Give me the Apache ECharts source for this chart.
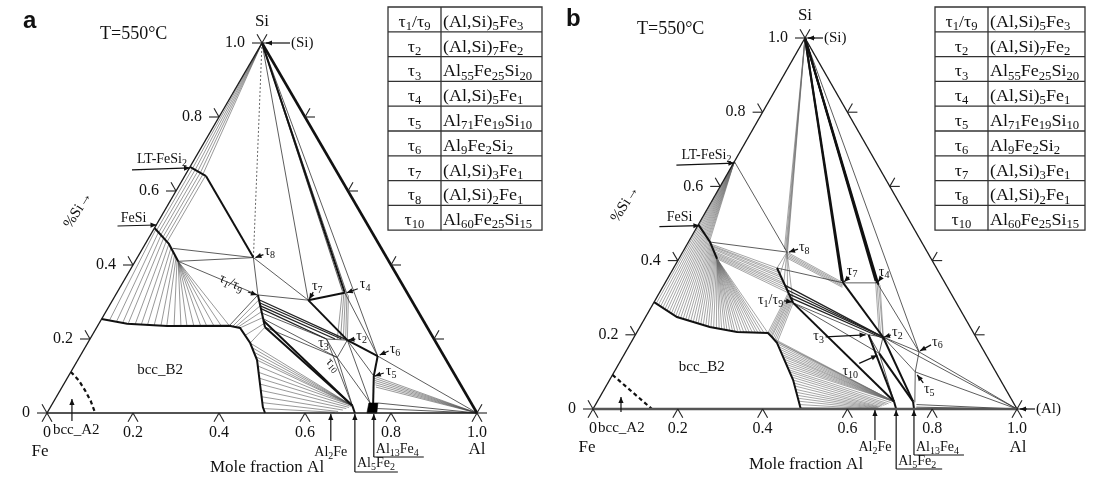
<!DOCTYPE html>
<html>
<head>
<meta charset="utf-8">
<script src="https://cdn.jsdelivr.net/npm/echarts@6/dist/echarts.min.js"></script>
<style>
  html, body { margin: 0; padding: 0; background: #fff; }
  #chart { width: 1093px; height: 484px; }
</style>
</head>
<body>
<div id="chart"></div>
<script>
// Al–Fe–Si isothermal sections at 550 °C. Every composition is [x_Al, x_Si].
const SERIF = '"Liberation Serif", "DejaVu Serif", serif';

// ---- axis ticks ----
const tickValues = [0, 0.2, 0.4, 0.6, 0.8, 1.0];
const tickLabels = ['0', '0.2', '0.4', '0.6', '0.8', '1.0'];

// ---- table of ternary phases ----
const tableSymbols = ['τ_1/τ_9', 'τ_2', 'τ_3', 'τ_4', 'τ_5', 'τ_6', 'τ_7', 'τ_8', 'τ_10'];
const tableFormulas = ['(Al,Si)_5Fe_3', '(Al,Si)_7Fe_2', 'Al_55Fe_25Si_20', '(Al,Si)_5Fe_1',
  'Al_71Fe_19Si_10', 'Al_9Fe_2Si_2', '(Al,Si)_3Fe_1', '(Al,Si)_2Fe_1', 'Al_60Fe_25Si_15'];

// ---- pure elements ----
const SI = [0, 1];
const AL = [1, 0];
const FE = [0, 0];

// ================= panel a =================
const aLTFeSi2 = [[0, 0.665], [0.05, 0.64]];
const aFeSi = [[0, 0.5], [0.055, 0.457], [0.10, 0.41]];
const aB2Boundary = [[0, 0.254], [0.066, 0.241], [0.162, 0.235], [0.306, 0.236], [0.334, 0.23],
  [0.378, 0.189], [0.417, 0.143], [0.494, 0.016], [0.507, 0]];
const aA2Boundary = [[0, 0.111], [0.03, 0.088], [0.057, 0.062], [0.085, 0.033], [0.112, 0]];
const aTau8 = [0.27, 0.42];
const aTau19 = [[0.331, 0.319], [0.391, 0.232]];
const aTau7 = [0.455, 0.305];
const aTau4 = [0.53, 0.325];
const aTau2 = [0.60, 0.197];
const aTau3 = [0.55, 0.20];
const aTau10 = [0.60, 0.15];
const aTau6 = [0.692, 0.154];
const aTau5 = [0.71, 0.10];
const aAl2Fe = [0.66, 0];
const aAl5Fe2 = [[0.70, 0.02], [0.716, 0]];
const aAl13Fe4 = [[0.735, 0.027], [0.756, 0.027], [0.767, 0], [0.744, 0]];
const aAl13Fe4Label = [0.76, 0];
const aA2Label = [0.058, 0];
const aB2Label = [0.205, 0.116];

const aTieSiLT = [[0.008, 0.661], [0.016, 0.657], [0.024, 0.653], [0.032, 0.649], [0.04, 0.645]];
const aTieLTFeSi = [
  [[0.008, 0.661], [0.008, 0.494]], [[0.016, 0.657], [0.016, 0.487]], [[0.024, 0.653], [0.024, 0.481]],
  [[0.032, 0.649], [0.032, 0.475]], [[0.040, 0.645], [0.040, 0.469]], [[0.048, 0.641], [0.048, 0.463]]];
const aTieFeSiB2 = [
  [[0.005, 0.496], [0.02, 0.252]], [[0.015, 0.488], [0.038, 0.248]], [[0.025, 0.48], [0.054, 0.245]],
  [[0.035, 0.472], [0.068, 0.242]], [[0.045, 0.465], [0.085, 0.24]], [[0.055, 0.457], [0.10, 0.238]],
  [[0.065, 0.447], [0.115, 0.237]], [[0.075, 0.436], [0.131, 0.236]], [[0.083, 0.428], [0.147, 0.236]],
  [[0.09, 0.42], [0.161, 0.235]], [[0.095, 0.415], [0.178, 0.235]], [[0.10, 0.41], [0.194, 0.235]],
  [[0.10, 0.41], [0.208, 0.235]], [[0.10, 0.41], [0.224, 0.235]], [[0.10, 0.41], [0.24, 0.235]],
  [[0.10, 0.41], [0.254, 0.235]], [[0.10, 0.41], [0.271, 0.235]], [[0.10, 0.41], [0.287, 0.236]],
  [[0.10, 0.41], [0.306, 0.236]]];
const aTieB2Tau19 = [
  [[0.315, 0.235], [0.34, 0.306]], [[0.322, 0.233], [0.351, 0.29]], [[0.328, 0.232], [0.362, 0.274]],
  [[0.334, 0.23], [0.373, 0.258]], [[0.356, 0.21], [0.384, 0.242]], [[0.378, 0.189], [0.391, 0.232]]];
const aTieB2AlFe = [
  [[0.378, 0.189], [0.70, 0.02]], [[0.39, 0.176], [0.70, 0.02]], [[0.40, 0.164], [0.70, 0.02]],
  [[0.41, 0.152], [0.70, 0.02]], [[0.417, 0.143], [0.70, 0.02]], [[0.427, 0.127], [0.70, 0.02]],
  [[0.437, 0.11], [0.70, 0.02]], [[0.447, 0.094], [0.698, 0.018]], [[0.457, 0.078], [0.695, 0.015]],
  [[0.467, 0.061], [0.69, 0.012]], [[0.477, 0.044], [0.684, 0.008]], [[0.487, 0.028], [0.675, 0.004]],
  [[0.497, 0.012], [0.668, 0.002]]];
const aTieTau4Tau2 = [
  [[0.522, 0.33], [0.575, 0.2]], [[0.527, 0.327], [0.583, 0.199]], [[0.532, 0.324], [0.59, 0.198]],
  [[0.537, 0.321], [0.596, 0.197]], [[0.542, 0.318], [0.60, 0.197]]];
const aTieTau19Tau2 = [
  [[0.34, 0.306], [0.60, 0.197]], [[0.345, 0.298], [0.585, 0.20]],
  [[0.35, 0.29], [0.57, 0.20]], [[0.355, 0.283], [0.55, 0.20]]];
const aTieTau5Al = [[0.71, 0.10], [0.714, 0.094], [0.718, 0.088], [0.722, 0.082], [0.726, 0.076], [0.73, 0.07]];

const aThinLinks = [
  [SI, aTau7], [SI, aTau6], [SI, [0.522, 0.33]], [SI, [0.538, 0.32]],
  [aTau4, aTau6], [aTau6, AL],
  [aFeSi[2], aTau8], [[0.07, 0.445], aTau8], [aFeSi[2], aTau19[0]], [aB2Boundary[3], aTau19[0]],
  [aTau8, aTau19[0]], [aTau8, aTau7], [aTau19[0], aTau7],
  [aTau3, aTau2], [aTau3, aTau10], [aTau10, aTau2],
  [aTau10, aAl5Fe2[0]], [aTau10, [0.738, 0.027]], [aTau2, [0.738, 0.027]], [aTau2, aTau5], [aTau3, aAl5Fe2[0]],
  [aTau19[1], aTau10], [[0.365, 0.27], aTau3], [[0.375, 0.255], aTau10],
  [[0.756, 0.027], AL], [[0.762, 0.012], AL]];
const aThickLinks = [
  [aLTFeSi2[1], aTau8], [aTau7, aTau4], [aTau7, aTau2], [aTau2, aTau6], [aTau6, aTau5], [aTau5, [0.745, 0.027]],
  [aTau19[1], aAl5Fe2[0]], [[0.378, 0.25], aAl5Fe2[0]], [SI, aTau4], [aAl5Fe2[0], aAl5Fe2[1]],
  aTau19, aLTFeSi2, aFeSi, aB2Boundary];

// ================= panel b =================
const bLTFeSi2 = [0, 0.667];
const bFeSi = [[0, 0.497], [0.051, 0.45], [0.09, 0.405]];
const bB2Boundary = [[0, 0.288], [0.074, 0.248], [0.165, 0.221], [0.236, 0.2075], [0.31, 0.205],
  [0.325, 0.194], [0.345, 0.178], [0.433, 0.078], [0.49, 0]];
const bA2Boundary = [[0, 0.092], [0.139, 0]];
const bTau8 = [0.246, 0.423];
const bTau19 = [[0.244, 0.38], [0.329, 0.286]];
const bTau7 = [0.42, 0.34];
const bTau4 = [0.50, 0.34];
const bTau2 = [0.587, 0.194];
const bTau3 = [0.55, 0.20];
const bTau10 = [0.60, 0.15];
const bTau6 = [0.692, 0.154];
const bTau5 = [0.71, 0.10];
const bAl2Fe = [0.665, 0];
const bAl5Fe2 = [[0.70, 0.02], [0.715, 0]];
const bAl13Fe4 = [[0.745, 0.02], [0.757, 0]];
const bA2Label = [0.066, 0];
const bB2Label = [0.2, 0.113];

const bTieSiTau8 = [[0.236, 0.431], [0.24, 0.428], [0.243, 0.426], [0.246, 0.423], [0.249, 0.419]];
const bTieLTFeSi = [[0.0035, 0.494], [0.007, 0.491], [0.0105, 0.487], [0.014, 0.484], [0.0175, 0.481],
  [0.021, 0.478], [0.0245, 0.474], [0.028, 0.471], [0.0315, 0.468], [0.035, 0.465], [0.0385, 0.462],
  [0.042, 0.458], [0.0455, 0.455], [0.049, 0.452]];
const bTieFeSiB2 = [
  [[0.0035, 0.494], [0.007, 0.284]], [[0.007, 0.491], [0.014, 0.28]], [[0.0105, 0.487], [0.021, 0.277]],
  [[0.014, 0.484], [0.028, 0.273]], [[0.0175, 0.481], [0.035, 0.269]], [[0.021, 0.478], [0.042, 0.265]],
  [[0.0245, 0.474], [0.049, 0.262]], [[0.028, 0.471], [0.056, 0.258]], [[0.0315, 0.468], [0.063, 0.254]],
  [[0.035, 0.465], [0.07, 0.25]], [[0.0385, 0.462], [0.077, 0.247]], [[0.042, 0.458], [0.084, 0.245]],
  [[0.0455, 0.455], [0.091, 0.243]], [[0.049, 0.452], [0.098, 0.241]], [[0.0525, 0.448], [0.105, 0.239]],
  [[0.056, 0.444], [0.112, 0.237]], [[0.0595, 0.44], [0.119, 0.235]], [[0.063, 0.436], [0.126, 0.233]],
  [[0.0665, 0.432], [0.133, 0.23]], [[0.07, 0.428], [0.14, 0.228]], [[0.0735, 0.424], [0.147, 0.226]],
  [[0.077, 0.42], [0.154, 0.224]], [[0.0805, 0.416], [0.161, 0.222]], [[0.084, 0.412], [0.168, 0.22]],
  [[0.0875, 0.408], [0.175, 0.219]],
  [[0.09, 0.405], [0.182, 0.218]], [[0.09, 0.405], [0.189, 0.217]], [[0.09, 0.405], [0.196, 0.215]],
  [[0.09, 0.405], [0.203, 0.214]], [[0.09, 0.405], [0.21, 0.212]], [[0.09, 0.405], [0.217, 0.211]],
  [[0.09, 0.405], [0.224, 0.21]], [[0.09, 0.405], [0.231, 0.208]], [[0.09, 0.405], [0.238, 0.208]],
  [[0.09, 0.405], [0.245, 0.207]], [[0.09, 0.405], [0.252, 0.207]], [[0.09, 0.405], [0.259, 0.207]],
  [[0.09, 0.405], [0.266, 0.206]], [[0.09, 0.405], [0.273, 0.206]], [[0.09, 0.405], [0.28, 0.206]],
  [[0.09, 0.405], [0.287, 0.205]], [[0.09, 0.405], [0.294, 0.205]], [[0.09, 0.405], [0.301, 0.205]],
  [[0.09, 0.405], [0.31, 0.205]]];
const bTieFeSiTau19 = [
  [[0.055, 0.445], [0.244, 0.38]], [[0.0585, 0.441], [0.25, 0.373]], [[0.062, 0.438], [0.256, 0.367]],
  [[0.0655, 0.434], [0.262, 0.36]], [[0.069, 0.43], [0.268, 0.354]], [[0.0725, 0.425], [0.274, 0.347]],
  [[0.076, 0.421], [0.28, 0.34]], [[0.0795, 0.417], [0.286, 0.334]], [[0.083, 0.413], [0.292, 0.327]],
  [[0.0865, 0.409], [0.298, 0.32]], [[0.09, 0.405], [0.304, 0.313]]];
const bTieTau8Tau19 = [[0.244, 0.38], [0.26, 0.362], [0.28, 0.34], [0.30, 0.318], [0.329, 0.286]];
const bTieTau8Tau7 = [
  [[0.246, 0.423], [0.42, 0.34]], [[0.248, 0.419], [0.421, 0.337]], [[0.25, 0.415], [0.422, 0.334]],
  [[0.252, 0.411], [0.423, 0.331]], [[0.254, 0.407], [0.424, 0.328]]];
const bTieB2Tau19 = [
  [[0.31, 0.205], [0.304, 0.313]], [[0.314, 0.202], [0.307, 0.31]], [[0.318, 0.2], [0.31, 0.306]],
  [[0.322, 0.197], [0.313, 0.303]], [[0.325, 0.194], [0.316, 0.3]], [[0.33, 0.19], [0.319, 0.297]],
  [[0.335, 0.186], [0.322, 0.293]], [[0.34, 0.182], [0.325, 0.29]], [[0.345, 0.178], [0.329, 0.286]]];
const bTieB2Al5Fe2 = [[0.33, 0.19], [0.336, 0.185], [0.342, 0.181], [0.348, 0.175], [0.354, 0.168],
  [0.36, 0.161], [0.366, 0.154], [0.372, 0.147], [0.378, 0.141], [0.384, 0.134], [0.39, 0.127]];
const bTieB2AlFe = [
  [[0.396, 0.12], [0.70, 0.02]], [[0.402, 0.113], [0.70, 0.02]], [[0.408, 0.106], [0.695, 0.017]],
  [[0.414, 0.10], [0.69, 0.014]], [[0.42, 0.093], [0.686, 0.012]], [[0.426, 0.086], [0.682, 0.01]],
  [[0.433, 0.078], [0.678, 0.008]], [[0.439, 0.07], [0.675, 0.006]], [[0.445, 0.062], [0.672, 0.005]],
  [[0.451, 0.053], [0.67, 0.004]], [[0.457, 0.045], [0.668, 0.003]], [[0.463, 0.037], [0.667, 0.002]],
  [[0.469, 0.029], [0.666, 0.001]], [[0.475, 0.021], [0.665, 0]], [[0.481, 0.012], [0.665, 0]],
  [[0.487, 0.004], [0.665, 0]]];
const bTieTau4Tau2 = [
  [[0.495, 0.343], [0.575, 0.2]], [[0.50, 0.34], [0.58, 0.197]],
  [[0.505, 0.337], [0.587, 0.194]], [[0.51, 0.334], [0.59, 0.19]]];
const bTieTau19Tau2 = [
  [[0.285, 0.334], [0.58, 0.197]], [[0.295, 0.322], [0.587, 0.194]],
  [[0.305, 0.311], [0.587, 0.194]], [[0.315, 0.3], [0.59, 0.19]]];

const bThinLinks = [
  [bLTFeSi2, bTau8], [bFeSi[1], bTau8], [bTau19[0], bTau7], [bTau7, bTau4], [bTau4, bTau6], [SI, bTau6],
  [bTau2, bTau6], [bTau6, AL], [bTau5, AL], [bTau2, AL], [bTau5, [0.75, 0.018]],
  [bTau3, bTau2], [bTau19[1], bTau3], [bTau19[1], bTau10], [bTau3, bTau10], [bTau10, bTau2],
  [bTau10, bAl5Fe2[0]], [bTau2, bTau5], [bTau6, bTau5], [[0.757, 0.012], AL], [[0.76, 0.005], AL]];
const bThickLinks = [
  [SI, bTau7], [SI, [0.414, 0.345]], [SI, bTau4], [SI, [0.494, 0.345]], [SI, [0.506, 0.335]],
  [bTau7, bTau2], [bTau19[1], bAl5Fe2[0]], [bTau2, bAl13Fe4[0]], [bTau3, bAl5Fe2[0]], [bTau10, bAl13Fe4[0]],
  bAl5Fe2, bAl13Fe4, bTau19, bFeSi, bB2Boundary];

// ---------------------------------------------------------------
const toXY = p => [p[0] + p[1] / 2, p[1]];   // ternary -> cartesian (equilateral)
const fanFrom = (origin, ends) => ends.map(e => [origin, e]);

const STYLE = {
  frame: { stroke: '#1a1a1a', lineWidth: 1.4 },
  heavy: { stroke: '#111', lineWidth: 2.6 },
  heavyGray: { stroke: '#555', lineWidth: 2.6 },
  thick: { stroke: '#111', lineWidth: 2.0 },
  med: { stroke: '#222', lineWidth: 1.3 },
  thin: { stroke: '#333', lineWidth: 0.8 },
  tie: { stroke: '#444', lineWidth: 0.55 },
  gray: { stroke: '#6a6a6a', lineWidth: 0.6 },
  dotted: { stroke: '#555', lineWidth: 0.9, lineDash: [2, 2] },
  dashed: { stroke: '#111', lineWidth: 2.2, lineDash: [4, 3] },
  solid: { fill: '#000' }
};

const aLayers = [
  ['tie', fanFrom(SI, aTieSiLT)], ['tie', aTieLTFeSi], ['tie', aTieFeSiB2], ['tie', aTieB2Tau19],
  ['tie', aTieB2AlFe], ['tie', aTieTau4Tau2], ['tie', fanFrom(AL, aTieTau5Al)],
  ['med', aTieTau19Tau2], ['thin', aThinLinks], ['dotted', [[SI, aTau8]]], ['thick', aThickLinks],
  ['dashed', [aA2Boundary]], ['solid', [aAl13Fe4]],
  ['frame', [[FE, AL], [FE, SI]]], ['heavy', [[SI, AL]]]
];
const bLayers = [
  ['gray', fanFrom(SI, bTieSiTau8)], ['gray', fanFrom(bLTFeSi2, bTieLTFeSi)], ['gray', bTieFeSiB2],
  ['gray', bTieFeSiTau19], ['gray', fanFrom(bTau8, bTieTau8Tau19)], ['gray', bTieTau8Tau7],
  ['gray', bTieB2Tau19], ['gray', fanFrom(bAl5Fe2[0], bTieB2Al5Fe2)], ['gray', bTieB2AlFe],
  ['gray', bTieTau4Tau2], ['med', bTieTau19Tau2], ['thin', bThinLinks], ['thick', bThickLinks],
  ['dashed', [bA2Boundary]],
  ['frame', [[FE, SI], [SI, AL]]], ['heavyGray', [[FE, AL]]]
];

function flatten(layers) {
  const out = [];
  layers.forEach(([st, lines]) => lines.forEach(pts => out.push({ st, pts })));
  return out;
}

function shapeSeries(layers, gi) {
  const shapes = flatten(layers);
  return {
    type: 'custom', coordinateSystem: 'cartesian2d', xAxisIndex: gi, yAxisIndex: gi,
    clip: false, silent: true, animation: false,
    data: shapes.map(s => toXY(s.pts[0])),
    renderItem: (params, api) => {
      const s = shapes[params.dataIndex];
      const st = STYLE[s.st];
      const pts = s.pts.map(p => api.coord(toXY(p)));
      if (st.fill) {
        return { type: 'polygon', shape: { points: pts }, style: { fill: st.fill, stroke: st.fill, lineWidth: 0.6 } };
      }
      return {
        type: 'polyline', shape: { points: pts },
        style: { stroke: st.stroke, lineWidth: st.lineWidth, lineDash: st.lineDash || null, fill: null }
      };
    }
  };
}

// ---- rich text with subscripts: "Al_13Fe_4" ----
function rt(str) {
  return str.split(/(_\d+)/).filter(Boolean)
    .map(seg => seg[0] === '_' ? '{s|' + seg.slice(1) + '}' : '{n|' + seg + '}').join('');
}
function richStyles(fs) {
  return {
    n: { fontSize: fs, fontFamily: SERIF, verticalAlign: 'top', fill: '#111' },
    s: { fontSize: Math.round(fs * 0.68), fontFamily: SERIF, verticalAlign: 'top',
         padding: [Math.round(fs * 0.42), 0, 0, 0], fill: '#111' }
  };
}
function textEl(str, x, y, align, fs, rot, vAlign, sx) {
  return {
    type: 'text', x, y, rotation: (rot || 0) * Math.PI / 180, scaleX: sx || 1,
    style: { text: rt(str), rich: richStyles(fs || 15), align: align || 'center',
             verticalAlign: vAlign || 'middle', fill: '#111' }
  };
}
function arrowHead(x1, y1, x2, y2) {
  const a = Math.atan2(y2 - y1, x2 - x1), L = 6, w = 2.6;
  const bx = x2 - L * Math.cos(a), by = y2 - L * Math.sin(a);
  return {
    type: 'polygon',
    shape: { points: [[x2, y2], [bx + w * Math.sin(a), by - w * Math.cos(a)], [bx - w * Math.sin(a), by + w * Math.cos(a)]] },
    style: { fill: '#111' }
  };
}

// ---- ternary ticks ----
const TICK_LEN = 10;
const TICK_DIRS = {
  bottom: [[-0.5, 0.866], [0.5, 0.866]],
  left: [[-1, 0], [-0.5, -0.866]],
  right: [[1, 0], [0.5, -0.866]]
};
const edgePoint = (edge, t) => edge === 'bottom' ? [t, 0] : edge === 'left' ? [0, t] : [1 - t, t];

function tickSeries(gi) {
  const items = [];
  tickValues.forEach((t, i) => { items.push(['bottom', t, i], ['left', t, i], ['right', t, i]); });
  return {
    type: 'custom', coordinateSystem: 'cartesian2d', xAxisIndex: gi, yAxisIndex: gi,
    clip: false, silent: true, animation: false,
    data: items.map(it => toXY(edgePoint(it[0], it[1]))),
    renderItem: (params, api) => {
      const [edge, t, i] = items[params.dataIndex];
      const c = api.coord(toXY(edgePoint(edge, t)));
      const children = TICK_DIRS[edge].map(d => ({
        type: 'line',
        shape: { x1: c[0], y1: c[1], x2: c[0] + d[0] * TICK_LEN, y2: c[1] + d[1] * TICK_LEN },
        style: { stroke: '#222', lineWidth: 1.1 }
      }));
      if (edge === 'bottom') children.push(textEl(tickLabels[i], c[0], c[1] + 20, 'center', 16));
      if (edge === 'left') children.push(textEl(tickLabels[i], c[0] - 17, c[1], 'right', 16));
      return { type: 'group', children };
    }
  };
}

// ---- labels anchored at compositions; offsets in pixels ----
function noteSeries(notes, gi) {
  return {
    type: 'custom', coordinateSystem: 'cartesian2d', xAxisIndex: gi, yAxisIndex: gi,
    clip: false, silent: true, animation: false,
    data: notes.map(n => toXY(n.p)),
    renderItem: (params, api) => {
      const n = notes[params.dataIndex];
      const c = api.coord(toXY(n.p));
      const children = [];
      (n.lines || []).forEach(l => {
        const x1 = c[0] + l[0], y1 = c[1] + l[1], x2 = c[0] + l[2], y2 = c[1] + l[3];
        children.push({ type: 'line', shape: { x1, y1, x2, y2 }, style: { stroke: '#111', lineWidth: 1.2 } });
        if (l[4]) children.push(arrowHead(x1, y1, x2, y2));
      });
      if (n.text) children.push(textEl(n.text, c[0] + n.tx, c[1] + n.ty, n.align, n.fs || 14, n.rot));
      return { type: 'group', children };
    }
  };
}

const aNotes = [
  { p: SI, text: 'Si', tx: 0, ty: -21, fs: 17 },
  { p: FE, text: 'Fe', tx: -7, ty: 39, fs: 17 },
  { p: AL, text: 'Al', tx: 0, ty: 37, fs: 17 },
  { p: SI, text: '(Si)', tx: 29, ty: 0, align: 'left', fs: 15, lines: [[28, 0, 4, 0, 1]] },
  { p: [0.5, 0], text: 'Mole fraction Al', tx: 5, ty: 55, fs: 17 },
  { p: aLTFeSi2[0], text: 'LT-FeSi_2', tx: -3, ty: -7, align: 'right', fs: 14, lines: [[-58, 3, 0, 1, 1]] },
  { p: aFeSi[0], text: 'FeSi', tx: -8, ty: -10, align: 'right', fs: 14, lines: [[-37, -2, 2, -3, 1]] },
  { p: aA2Label, text: 'bcc_A2', tx: -19, ty: 17, align: 'left', fs: 15, lines: [[0, 8, 0, -14, 1]] },
  { p: aB2Label, text: 'bcc_B2', tx: 0, ty: 0, fs: 15 },
  { p: aTau8, text: 'τ_8', tx: 11, ty: -5, align: 'left', lines: [[10, -3, 2, 0, 1]] },
  { p: aTau19[0], text: 'τ_1/τ_9', tx: -27, ty: -11, rot: -25, lines: [[-10, -3, -1, 0, 1]] },
  { p: aTau7, text: 'τ_7', tx: 9, ty: -13, lines: [[5, -8, 1, -1, 1]] },
  { p: aTau4, text: 'τ_4', tx: 15, ty: -7, align: 'left', lines: [[13, -4, 2, 0, 1]] },
  { p: aTau2, text: 'τ_2', tx: 9, ty: -3, align: 'left', lines: [[8, -1, 1, 0, 1]] },
  { p: aTau3, text: 'τ_3', tx: -3, ty: 5 },
  { p: aTau10, text: 'τ_10', tx: -5, ty: 8, rot: -50, fs: 13 },
  { p: aTau6, text: 'τ_6', tx: 12, ty: -6, align: 'left', lines: [[11, -5, 2, -1, 1]] },
  { p: aTau5, text: 'τ_5', tx: 12, ty: -4, align: 'left', lines: [[10, -3, 1, 0, 1]] },
  { p: aAl2Fe, text: 'Al_2Fe', tx: 0, ty: 40, fs: 14, lines: [[0, 28, 0, 1, 1]] },
  { p: aAl5Fe2[1], text: 'Al_5Fe_2', tx: 2, ty: 51, align: 'left', fs: 14, lines: [[0, 59, 0, 1, 1], [0, 59, 43, 59, 0]] },
  { p: aAl13Fe4Label, text: 'Al_13Fe_4', tx: 2, ty: 37, align: 'left', fs: 14, lines: [[0, 44, 0, 1, 1], [0, 44, 50, 44, 0]] }
];
const bNotes = [
  { p: SI, text: 'Si', tx: 0, ty: -22, fs: 17 },
  { p: FE, text: 'Fe', tx: -6, ty: 39, fs: 17 },
  { p: AL, text: 'Al', tx: 1, ty: 39, fs: 17 },
  { p: SI, text: '(Si)', tx: 19, ty: 0, align: 'left', fs: 15, lines: [[18, 0, 3, 0, 1]] },
  { p: AL, text: '(Al)', tx: 19, ty: 0, align: 'left', fs: 15, lines: [[18, 0, 3, 0, 1]] },
  { p: [0.5, 0], text: 'Mole fraction Al', tx: 1, ty: 56, fs: 17 },
  { p: bLTFeSi2, text: 'LT-FeSi_2', tx: -3, ty: -5, align: 'right', fs: 14, lines: [[-58, 3.5, 0, 1.5, 1]] },
  { p: bFeSi[0], text: 'FeSi', tx: -6, ty: -7, align: 'right', fs: 14, lines: [[-39, 2, 1, 1, 1]] },
  { p: bA2Label, text: 'bcc_A2', tx: -23, ty: 19, align: 'left', fs: 15, lines: [[0, 3, 0, -12, 1]] },
  { p: bB2Label, text: 'bcc_B2', tx: 0, ty: 0, fs: 15 },
  { p: bTau8, text: 'τ_8', tx: 12, ty: -4, align: 'left', lines: [[11, -3, 2, 0, 1]] },
  { p: bTau19[1], text: 'τ_1/τ_9', tx: -10, ty: -2, align: 'right', lines: [[-9, -2, -1, -1, 1]] },
  { p: bTau7, text: 'τ_7', tx: 9, ty: -11, lines: [[6, -6, 1, -1, 1]] },
  { p: bTau4, text: 'τ_4', tx: 7, ty: -10, lines: [[4, -5, 1, -1, 1]] },
  { p: bTau3, text: 'τ_3', tx: -50, ty: 3, lines: [[-43, 2, -3, 0, 1]] },
  { p: bTau2, text: 'τ_2', tx: 9, ty: -4, align: 'left', lines: [[8, -2, 1, 0, 1]] },
  { p: bTau10, text: 'τ_10', tx: -29, ty: 19, lines: [[-20, 10, -2, 2, 1]] },
  { p: bTau6, text: 'τ_6', tx: 13, ty: -9, align: 'left', lines: [[12, -7, 1, -1, 1]] },
  { p: bTau5, text: 'τ_5', tx: 14, ty: 18, lines: [[8, 11, 2, 3, 1]] },
  { p: bAl2Fe, text: 'Al_2Fe', tx: 0, ty: 39, fs: 14, lines: [[0, 31, 0, 1, 1]] },
  { p: bAl5Fe2[1], text: 'Al_5Fe_2', tx: 2, ty: 53, align: 'left', fs: 14, lines: [[0, 60, 0, 1, 1], [0, 60, 46, 60, 0]] },
  { p: bAl13Fe4[1], text: 'Al_13Fe_4', tx: 2, ty: 39, align: 'left', fs: 14, lines: [[0, 46, 0, 1, 1], [0, 46, 50, 46, 0]] }
];

// ---- phase table ----
function tableGraphic(x0, xDiv, x1, y0, rowH) {
  const children = [];
  const n = tableSymbols.length;
  const ln = (xa, ya, xb, yb) => ({ type: 'line', shape: { x1: xa, y1: ya, x2: xb, y2: yb }, style: { stroke: '#333', lineWidth: 1.3 } });
  children.push({ type: 'rect', shape: { x: x0, y: y0, width: x1 - x0, height: rowH * n }, style: { fill: '#fff', stroke: '#333', lineWidth: 1.3 } });
  for (let i = 1; i < n; i++) children.push(ln(x0, y0 + rowH * i, x1, y0 + rowH * i));
  children.push(ln(xDiv, y0, xDiv, y0 + rowH * n));
  tableSymbols.forEach((s, i) => {
    const yb = y0 + rowH * (i + 1) + 1;
    children.push(textEl(s, (x0 + xDiv) / 2, yb, 'center', 17, 0, 'bottom', 1.05));
    children.push(textEl(tableFormulas[i], xDiv + 2, yb, 'left', 17, 0, 'bottom', 1.06));
  });
  return { type: 'group', children };
}

const plain = (txt, x, y, font, align, rot) => ({
  type: 'text', x, y, rotation: (rot || 0) * Math.PI / 180,
  style: { text: txt, font, fill: '#111', align: align || 'left', verticalAlign: 'middle' }
});

const chart = echarts.init(document.getElementById('chart'), null, { renderer: 'canvas', width: 1093, height: 484 });
chart.setOption({
  animation: false,
  grid: [
    { left: 47, top: 43, width: 430, height: 370 },
    { left: 593, top: 38, width: 424, height: 371 }
  ],
  xAxis: [
    { type: 'value', min: 0, max: 1, show: false, gridIndex: 0 },
    { type: 'value', min: 0, max: 1, show: false, gridIndex: 1 }
  ],
  yAxis: [
    { type: 'value', min: 0, max: 1, show: false, gridIndex: 0 },
    { type: 'value', min: 0, max: 1, show: false, gridIndex: 1 }
  ],
  graphic: [
    plain('a', 23, 21, 'bold 24px "Liberation Sans", Arial, sans-serif'),
    plain('b', 566, 19, 'bold 24px "Liberation Sans", Arial, sans-serif'),
    plain('T=550°C', 100, 34, '18px ' + SERIF),
    plain('T=550°C', 637, 29, '18px ' + SERIF),
    plain('%Si→', 78, 210, '15px ' + SERIF, 'center', 58),
    plain('%Si→', 625, 204, '15px ' + SERIF, 'center', 58),
    tableGraphic(388, 441, 542, 7, 24.8),
    tableGraphic(935, 988, 1085, 7, 24.8)
  ],
  series: [
    shapeSeries(aLayers, 0), tickSeries(0), noteSeries(aNotes, 0),
    shapeSeries(bLayers, 1), tickSeries(1), noteSeries(bNotes, 1)
  ]
});
</script>
</body>
</html>
